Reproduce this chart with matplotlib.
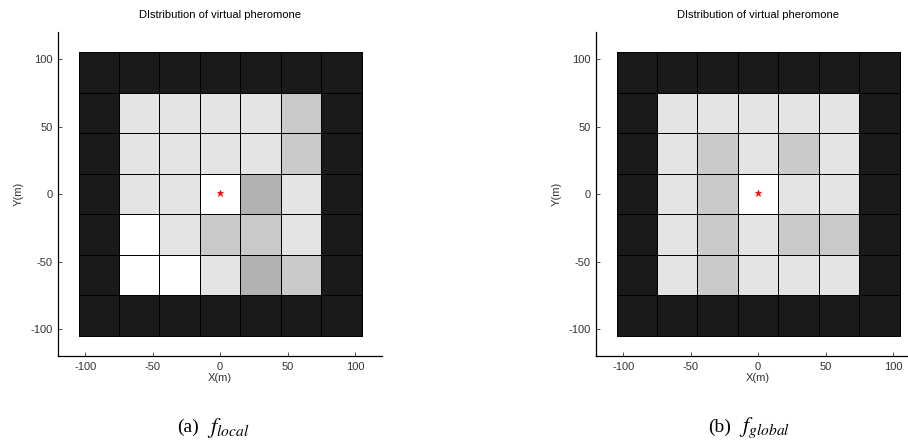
import numpy as np
import matplotlib
matplotlib.use("Agg")
import matplotlib.pyplot as plt
from matplotlib.colors import ListedColormap, BoundaryNorm

plt.rcParams.update({
    "font.family": "Liberation Sans",
    "font.size": 8,
    "mathtext.fontset": "stix",
    "axes.unicode_minus": False,
    "axes.linewidth": 0.9,
    "xtick.direction": "in",
    "ytick.direction": "in",
})

# cell centres (m), 7x7 grid, 30 m cells
cell_x = [-90, -60, -30, 0, 30, 60, 90]
cell_y = [90, 60, 30, 0, -30, -60, -90]   # rows top -> bottom

# pheromone level per cell: 0 = obstacle/border, 1 = darker, 2 = mid, 3 = light, 4 = none
local_levels = [
    [0, 0, 0, 0, 0, 0, 0],
    [0, 3, 3, 3, 3, 2, 0],
    [0, 3, 3, 3, 3, 2, 0],
    [0, 3, 3, 4, 1, 3, 0],
    [0, 4, 3, 2, 2, 3, 0],
    [0, 4, 4, 3, 1, 2, 0],
    [0, 0, 0, 0, 0, 0, 0],
]
global_levels = [
    [0, 0, 0, 0, 0, 0, 0],
    [0, 3, 3, 3, 3, 3, 0],
    [0, 3, 2, 3, 2, 3, 0],
    [0, 3, 2, 4, 3, 3, 0],
    [0, 3, 2, 3, 2, 2, 0],
    [0, 3, 2, 3, 3, 3, 0],
    [0, 0, 0, 0, 0, 0, 0],
]
robot_xy = (0, 1)
ticks = [-100, -50, 0, 50, 100]

cmap = ListedColormap(["#1a1a1a", "#b2b2b2", "#cacaca", "#e4e4e4", "#ffffff"])
norm = BoundaryNorm([-0.5, 0.5, 1.5, 2.5, 3.5, 4.5], cmap.N)

fig = plt.figure(figsize=(9.08, 4.41), dpi=100)
panels = [
    (fig.add_axes([0.0642, 0.1927, 0.3565, 0.7347]), local_levels, "(a)", r"$f_{local}$", 0.2225),
    (fig.add_axes([0.6567, 0.1927, 0.3565, 0.7347]), global_levels, "(b)", r"$f_{global}$", 0.8085),
]

step = 30
xe = np.array([c - step / 2 for c in cell_x] + [cell_x[-1] + step / 2])
ye = np.array([c + step / 2 for c in cell_y] + [cell_y[-1] - step / 2])

for ax, levels, tag, name, cx in panels:
    ax.pcolormesh(xe, ye, np.array(levels), cmap=cmap, norm=norm,
                  edgecolors="#000000", linewidth=0.7)
    ax.plot(*robot_xy, marker="*", color="red", ms=5, mew=0.5, ls="none")
    ax.set_xlim(-120, 120)
    ax.set_ylim(-120, 120)
    ax.set_xticks(ticks)
    ax.set_yticks(ticks)
    ax.tick_params(length=3, width=0.6, colors="#333333", labelsize=8, pad=4)
    ax.spines["top"].set_visible(False)
    ax.spines["right"].set_visible(False)
    ax.set_xlabel("X(m)", fontsize=8, labelpad=1, color="#333333")
    ax.set_ylabel("Y(m)", fontsize=8, labelpad=5, color="#333333")
    ax.set_title("DIstribution of virtual pheromone", fontsize=8, pad=10)
    fig.text(cx - 0.0035, 0.032, tag, ha="right", va="center",
             family="Liberation Serif", fontsize=14)
    fig.text(cx + 0.005, 0.030, name, ha="left", va="center", fontsize=16)

fig.savefig("out.png", dpi=100)
